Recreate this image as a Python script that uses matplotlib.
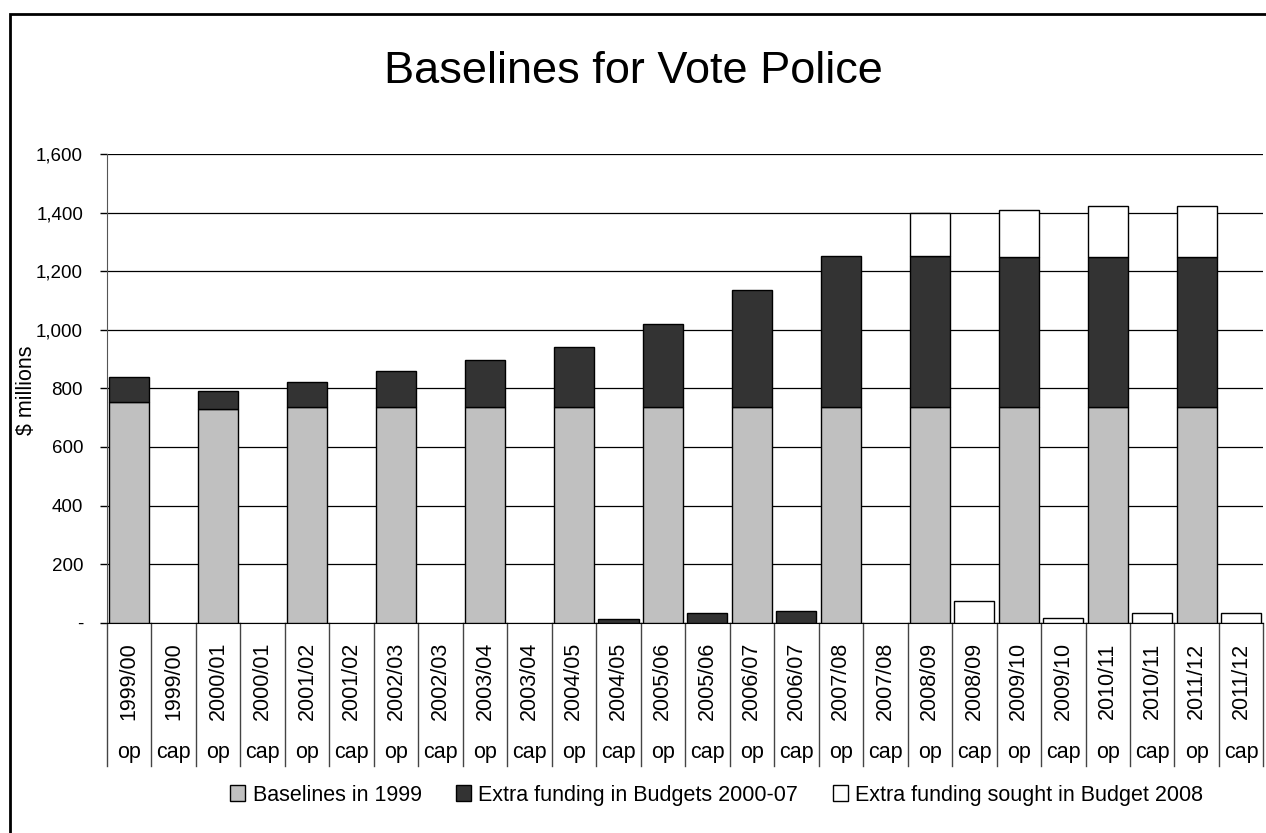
import matplotlib.pyplot as plt
import numpy as np
from matplotlib.patches import Patch, Rectangle
from matplotlib.lines import Line2D
from matplotlib.ticker import FuncFormatter

plt.rcParams['font.family'] = ['Liberation Sans', 'DejaVu Sans']

years = ['1999/00', '2000/01', '2001/02', '2002/03', '2003/04', '2004/05', '2005/06',
         '2006/07', '2007/08', '2008/09', '2009/10', '2010/11', '2011/12']
kinds = ['op', 'cap']

# operating ($m)
op_baseline = [752, 731, 735, 735, 735, 735, 735, 735, 735, 735, 735, 735, 735]
op_extra = [86, 59, 87, 123, 163, 205, 285, 402, 517, 518, 513, 513, 513]
op_sought = [0, 0, 0, 0, 0, 0, 0, 0, 0, 147, 162, 174, 174]
# capital ($m)
cap_extra = [0, 0, 0, 0, 0, 12, 32, 39, 0, 0, 0, 0, 0]
cap_sought = [0, 0, 0, 0, 0, 0, 0, 0, 0, 73, 16, 32, 32]

legend_labels = ['Baselines in 1999', 'Extra funding in Budgets 2000-07',
                 'Extra funding sought in Budget 2008']
colors = ['#c0c0c0', '#333333', '#ffffff']

# interleave op / cap columns
n = len(years)
baseline = np.zeros(2 * n)
extra = np.zeros(2 * n)
sought = np.zeros(2 * n)
baseline[0::2] = op_baseline
extra[0::2] = op_extra
extra[1::2] = cap_extra
sought[0::2] = op_sought
sought[1::2] = cap_sought
x = np.arange(2 * n)

fig = plt.figure(figsize=(12.66, 8.33), dpi=100)
ax = fig.add_axes([0.0843, 0.2525, 0.9137, 0.5626])

w = 0.906
bottoms = np.zeros(2 * n)
for vals, col in zip([baseline, extra, sought], colors):
    m = vals > 0
    ax.bar(x[m], vals[m], width=w, bottom=bottoms[m], color=col,
           edgecolor='black', linewidth=1.0, zorder=3)
    bottoms += vals

ax.set_xlim(-0.5, 2 * n - 0.5)
ax.set_ylim(0, 1600)
ax.set_yticks(np.arange(0, 1601, 200))
ax.yaxis.set_major_formatter(FuncFormatter(lambda v, p: '-' if v == 0 else f'{v:,.0f}'))
ax.tick_params(axis='y', direction='out', length=5, width=1, pad=12, labelsize=13.5)
ax.tick_params(axis='x', length=0, labelbottom=False)
ax.grid(axis='y', color='black', linewidth=0.9, zorder=0)
ax.set_axisbelow(True)
for s in ['top', 'right']:
    ax.spines[s].set_visible(False)
ax.spines['left'].set_color('#555555')
ax.spines['bottom'].set_color('black')

# two-row category axis with separators
trans = ax.get_xaxis_transform()
for i in range(2 * n + 1):
    ax.add_line(Line2D([i - 0.5, i - 0.5], [0, -0.305], transform=trans,
                       color='#444444', linewidth=1.0, clip_on=False))
for i in range(2 * n):
    ax.text(x[i], -0.124, years[i // 2], transform=trans, rotation=90,
            ha='center', va='center', fontsize=15.5)
    ax.text(x[i], -0.278, kinds[i % 2], transform=trans,
            ha='center', va='center', fontsize=15.5)

fig.text(0.0213, 0.532, '$ millions', rotation=90, ha='center', va='center', fontsize=15.5)
fig.text(0.5, 0.914, 'Baselines for Vote Police', ha='center', va='center', fontsize=32.5)

handles = [Patch(facecolor=c, edgecolor='black', linewidth=1.0) for c in colors]
fig.legend(handles, legend_labels, loc='center', bbox_to_anchor=(0.566, 0.0456),
           ncol=3, frameon=False, fontsize=15.5, handlelength=0.7, handleheight=0.7,
           handletextpad=0.33, columnspacing=1.6)

# chart frame
fig.add_artist(Rectangle((10 / 1266, -0.1), 1.2, 0.1 + 1 - 14 / 833,
                         transform=fig.transFigure, fill=False,
                         edgecolor='black', linewidth=2))

fig.savefig('out.png', dpi=100)
